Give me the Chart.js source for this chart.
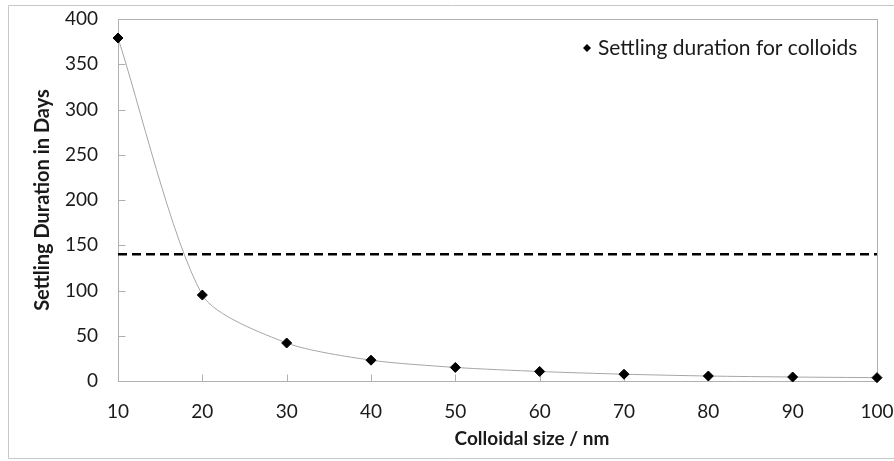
<!DOCTYPE html>
<html>
<head>
<meta charset="utf-8">
<script src="https://cdn.jsdelivr.net/npm/chart.js@4.4.0/dist/chart.umd.min.js"></script>
<style>
  html, body { margin: 0; padding: 0; background: #fff; overflow: hidden; }
  #wrap { position: relative; width: 894px; height: 461px; }
</style>
</head>
<body>
<div id="wrap"><canvas id="myChart" width="894" height="461"></canvas></div>
<script>
// Data
const colloidSizes = [10, 20, 30, 40, 50, 60, 70, 80, 90, 100];
const settlingDays = [379, 95, 42, 23, 15, 10.5, 7.5, 5.5, 4.4, 3.7];
const thresholdDays = 140;
const legendLabel = 'Settling duration for colloids';
const xTitle = 'Colloidal size / nm';
const yTitle = 'Settling Duration in Days';

const fontFamily = 'Lato, "Open Sans", sans-serif';
const textColor = '#1a1a1a';

const points = colloidSizes.map((x, i) => ({ x: x, y: settlingDays[i] }));
const thresholdLine = [
    { x: colloidSizes[0], y: thresholdDays },
    { x: colloidSizes[colloidSizes.length - 1], y: thresholdDays }
];

// label overflow padding is handled by layout.padding instead
function noOverflow(scale) {
    scale.paddingTop = 0;
    scale.paddingBottom = 0;
    scale.paddingLeft = 0;
    scale.paddingRight = 0;
}

// Outer frame, plot box, inward tick marks, x title and the in-plot legend
const framePlugin = {
    id: 'frame',
    beforeDatasetsDraw(chart) {
        const ctx = chart.ctx;
        const a = chart.chartArea;
        const xs = chart.scales.x, ys = chart.scales.y;
        ctx.save();
        ctx.strokeStyle = '#c8c8c8';
        ctx.lineWidth = 1;
        ctx.beginPath();
        ctx.moveTo(900, 458.5);
        ctx.lineTo(8.5, 458.5);
        ctx.lineTo(8.5, 5.5);
        ctx.lineTo(900, 5.5);
        ctx.stroke();

        const L = Math.round(a.left) + 0.5, T = Math.round(a.top) + 0.5;
        const R = Math.round(a.right) + 0.5, B = Math.round(a.bottom) + 0.5;
        ctx.strokeStyle = '#b0b0b0';
        ctx.strokeRect(L, T, R - L, B - T);

        ctx.beginPath();
        xs.ticks.forEach(t => {
            const px = Math.round(xs.getPixelForValue(t.value)) + 0.5;
            ctx.moveTo(px, B);
            ctx.lineTo(px, B - 7);
        });
        ys.ticks.forEach(t => {
            const py = Math.round(ys.getPixelForValue(t.value)) + 0.5;
            ctx.moveTo(L, py);
            ctx.lineTo(L + 7, py);
        });
        ctx.stroke();

        ctx.fillStyle = textColor;
        ctx.font = 'bold 19px ' + fontFamily;
        ctx.textAlign = 'center';
        ctx.textBaseline = 'middle';
        ctx.fillText(xTitle, 532, 439);

        // legend
        const lx = 587, ly = 48;
        ctx.fillStyle = '#000';
        ctx.beginPath();
        ctx.moveTo(lx, ly - 4);
        ctx.lineTo(lx + 4, ly);
        ctx.lineTo(lx, ly + 4);
        ctx.lineTo(lx - 4, ly);
        ctx.closePath();
        ctx.fill();
        ctx.font = '21px ' + fontFamily;
        ctx.textAlign = 'left';
        ctx.fillStyle = textColor;
        ctx.fillText(legendLabel, 598, ly);
        ctx.restore();
    }
};

const ctx = document.getElementById('myChart').getContext('2d');
const chart = new Chart(ctx, {
    type: 'scatter',
    data: {
        datasets: [
            {
                label: 'curve',
                data: points,
                showLine: true,
                borderColor: '#a6a6a6',
                borderWidth: 1,
                tension: 0.25,
                pointRadius: 0,
                order: 2
            },
            {
                label: 'threshold',
                data: thresholdLine,
                showLine: true,
                borderColor: '#000',
                borderWidth: 2.6,
                borderDash: [9, 5],
                pointRadius: 0,
                order: 3
            },
            {
                label: legendLabel,
                data: points,
                showLine: false,
                clip: false,
                pointStyle: 'rectRot',
                pointRadius: 5,
                pointBackgroundColor: '#000',
                pointBorderColor: '#000',
                order: 1
            }
        ]
    },
    options: {
        responsive: false,
        animation: false,
        layout: { padding: { left: 8, top: 19, right: 17, bottom: 0 } },
        plugins: {
            legend: { display: false },
            tooltip: { enabled: false }
        },
        scales: {
            x: {
                type: 'linear',
                min: 10,
                max: 100,
                afterFit: scale => { noOverflow(scale); scale.height = 80; },
                ticks: {
                    stepSize: 10,
                    padding: 19,
                    color: textColor,
                    font: { family: fontFamily, size: 19 }
                },
                grid: { display: false, drawTicks: false },
                border: { display: true, color: '#b0b0b0' }
            },
            y: {
                min: 0,
                max: 400,
                afterFit: scale => { noOverflow(scale); scale.width = 110; },
                ticks: {
                    stepSize: 50,
                    padding: 20,
                    color: textColor,
                    font: { family: fontFamily, size: 19 }
                },
                grid: { display: false, drawTicks: false },
                border: { display: true, color: '#b0b0b0' },
                title: {
                    display: true,
                    text: yTitle,
                    color: textColor,
                    font: { family: fontFamily, size: 20, weight: 'bold' },
                    padding: { top: 23, bottom: 23 }
                }
            }
        }
    },
    plugins: [framePlugin]
});
</script>
</body>
</html>
